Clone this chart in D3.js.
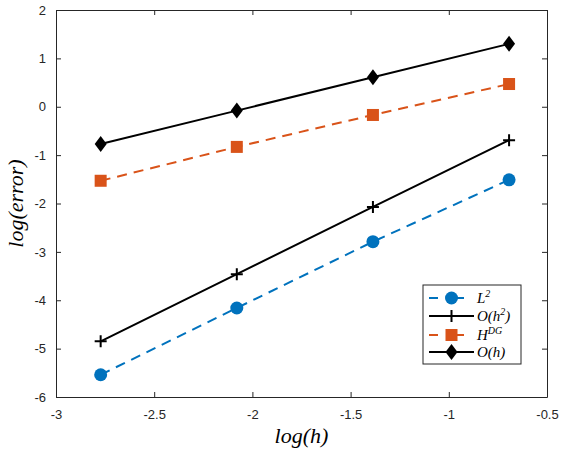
<!DOCTYPE html>
<html>
<head>
<meta charset="utf-8">
<script src="https://cdn.jsdelivr.net/npm/d3@7"></script>
<style>
  body { margin: 0; background: #fff; }
  svg text { font-family: "Liberation Sans", Arial, sans-serif; }
  .tick text { font-size: 13px; fill: #262626; }
  .lbl { font-family: "Liberation Serif", "DejaVu Serif", serif; font-style: italic; }
</style>
</head>
<body>
<svg id="svg" width="567" height="456"></svg>
<script>
// log(h) for h = 1/16, 1/8, 1/4, 1/2
const logH = [-2.7726, -2.0794, -1.3863, -0.6931];
const errL2 = [-5.54, -4.16, -2.79, -1.51];
const errOh2 = [-4.85, -3.46, -2.07, -0.69];
const errHDG = [-1.53, -0.83, -0.17, 0.47];
const errOh = [-0.77, -0.08, 0.61, 1.30];
const xTicks = [-3, -2.5, -2, -1.5, -1, -0.5];
const yTicks = [-6, -5, -4, -3, -2, -1, 0, 1, 2];

const margin = {top: 10, left: 56, right: 20, bottom: 59};
const width = 567 - margin.left - margin.right;
const height = 456 - margin.top - margin.bottom;

const svg = d3.select('#svg');
const g = svg.append('g')
    .attr('transform', 'translate(' + margin.left + ',' + margin.top + ')');

const xScale = d3.scaleLinear().domain([-3, -0.5]).range([0, width]);
const yScale = d3.scaleLinear().domain([-6, 2]).range([height, 0]);

const fmt = d => String(d);
// axes (ticks inward, box on)
g.append('g').attr('transform', 'translate(0,' + height + ')')
    .call(d3.axisBottom(xScale).tickValues(xTicks).tickSizeInner(-5).tickSizeOuter(0).tickPadding(13).tickFormat(fmt));
g.append('g').attr('transform', 'translate(0,0)')
    .call(d3.axisTop(xScale).tickValues(xTicks).tickSizeInner(-5).tickSizeOuter(0).tickFormat(''));
g.append('g')
    .call(d3.axisLeft(yScale).tickValues(yTicks).tickSizeInner(-5).tickSizeOuter(0).tickPadding(10).tickFormat(fmt));
g.append('g').attr('transform', 'translate(' + width + ',0)')
    .call(d3.axisRight(yScale).tickValues(yTicks).tickSizeInner(-5).tickSizeOuter(0).tickFormat(''));
g.selectAll('.domain').attr('stroke', '#262626').attr('stroke-width', 1);
g.selectAll('.tick line').attr('stroke', '#262626');

const series = [
  {name: 'L2', values: errL2, color: '#0072BD', dash: '10,7', marker: 'circle'},
  {name: 'Oh2', values: errOh2, color: '#000000', dash: null, marker: 'plus'},
  {name: 'HDG', values: errHDG, color: '#D95319', dash: '10,7', marker: 'square'},
  {name: 'Oh', values: errOh, color: '#000000', dash: null, marker: 'diamond'}
];

function drawMarker(sel, type, color) {
  if (type === 'circle') {
    sel.append('circle').attr('r', 6.5).attr('fill', color);
  } else if (type === 'square') {
    sel.append('rect').attr('x', -6).attr('y', -6).attr('width', 12).attr('height', 12).attr('fill', color);
  } else if (type === 'diamond') {
    sel.append('path').attr('d', 'M0,-8L6,0L0,8L-6,0Z').attr('fill', color);
  } else {
    sel.append('path').attr('d', 'M-6,0H6M0,-6V6').attr('stroke', color).attr('stroke-width', 2);
  }
}

const line = d3.line().x(d => xScale(d[0])).y(d => yScale(d[1]));

series.forEach(s => {
  const pts = logH.map((x, i) => [x, s.values[i]]);
  g.append('path')
      .datum(pts)
      .attr('d', line)
      .attr('fill', 'none')
      .attr('stroke', s.color)
      .attr('stroke-width', 2)
      .attr('stroke-dasharray', s.dash);
  pts.forEach(p => {
    const m = g.append('g').attr('transform', 'translate(' + xScale(p[0]) + ',' + yScale(p[1]) + ')');
    drawMarker(m, s.marker, s.color);
  });
});

// axis labels
svg.append('text').attr('class', 'lbl')
    .attr('x', margin.left + width / 2).attr('y', 443)
    .attr('text-anchor', 'middle').attr('font-size', 22)
    .text('log(h)');
svg.append('text').attr('class', 'lbl')
    .attr('transform', 'translate(23,' + (margin.top + height / 2) + ') rotate(-90)')
    .attr('text-anchor', 'middle').attr('font-size', 22)
    .text('log(error)');

// legend
const legend = svg.append('g').attr('transform', 'translate(423,285)');
legend.append('rect').attr('width', 98).attr('height', 79)
    .attr('fill', '#fff').attr('stroke', '#262626').attr('stroke-width', 1);
const legendRows = [
  {s: series[0], y: 13, label: ['L', '2', '']},
  {s: series[1], y: 31, label: ['O(h', '2', ')']},
  {s: series[2], y: 50, label: ['H', 'DG', '']},
  {s: series[3], y: 67, label: ['O(h)', '', '']}
];
legendRows.forEach(r => {
  const row = legend.append('g').attr('transform', 'translate(0,' + r.y + ')');
  row.append('line').attr('x1', 6).attr('x2', 51).attr('y1', 0).attr('y2', 0)
      .attr('stroke', r.s.color).attr('stroke-width', 2)
      .attr('stroke-dasharray', r.s.dash ? '9,17' : null);
  const m = row.append('g').attr('transform', 'translate(28.5,0)');
  drawMarker(m, r.s.marker, r.s.color);
  const t = row.append('text').attr('class', 'lbl').attr('x', 54).attr('y', 5).attr('font-size', 15);
  t.append('tspan').text(r.label[0]);
  if (r.label[1]) t.append('tspan').attr('dy', -6).attr('font-size', 10).text(r.label[1]);
  if (r.label[2]) t.append('tspan').attr('dy', 6).text(r.label[2]);
});
</script>
</body>
</html>
